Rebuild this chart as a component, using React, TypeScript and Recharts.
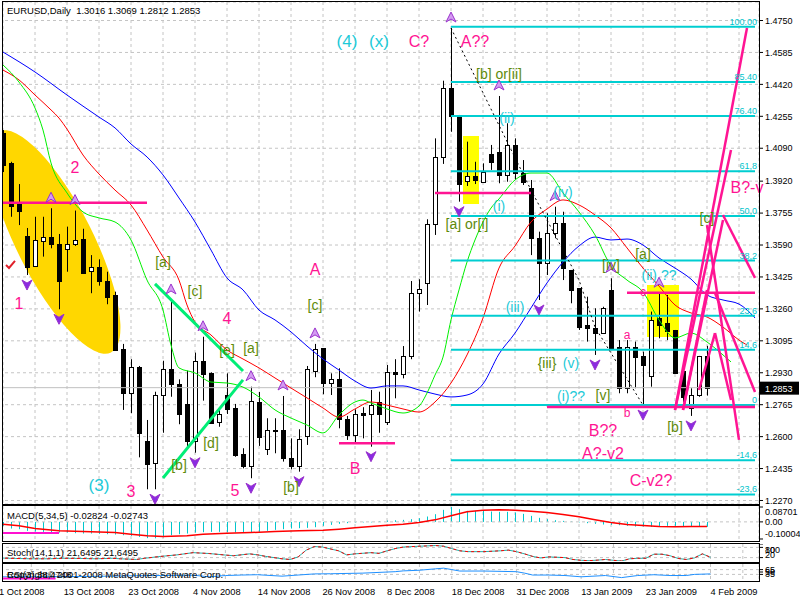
import React from 'react';
import {
  ComposedChart,
  Bar,
  Line,
  XAxis,
  YAxis,
  CartesianGrid,
  ReferenceLine,
  ReferenceArea,
  ReferenceDot,
} from 'recharts';

const FONT = '"Liberation Sans", Arial, sans-serif';
const SLOTS = 95; // 89 daily candles + room for the shifted Alligator lines
const W = 801;

// [open, high, low, close], one per trading day from 1 Oct 2008
const candles: number[][] = [
  [1.4169, 1.4184, 1.3967, 1.4003], [1.4012, 1.402, 1.3736, 1.3792], [1.3802, 1.3905, 1.3693, 1.3767],
  [1.3637, 1.3678, 1.3435, 1.3478], [1.3483, 1.3736, 1.3478, 1.3616], [1.3612, 1.3736, 1.353, 1.363],
  [1.363, 1.378, 1.3573, 1.3595], [1.3595, 1.3647, 1.3258, 1.3406], [1.3568, 1.3685, 1.3452, 1.3594],
  [1.3594, 1.3768, 1.3585, 1.3616], [1.3621, 1.3674, 1.3444, 1.3447], [1.3457, 1.3538, 1.3341, 1.3478],
  [1.3478, 1.3516, 1.338, 1.3406], [1.3406, 1.3452, 1.3284, 1.3323], [1.3332, 1.3349, 1.3044, 1.3048],
  [1.3053, 1.3079, 1.2738, 1.2824], [1.2824, 1.3, 1.2721, 1.2958], [1.2961, 1.2965, 1.2493, 1.262],
  [1.2577, 1.2686, 1.2328, 1.2457], [1.2462, 1.2832, 1.2328, 1.2815], [1.2813, 1.2992, 1.262, 1.2949],
  [1.2951, 1.3306, 1.2806, 1.287], [1.287, 1.2896, 1.2664, 1.2717], [1.2769, 1.2941, 1.2543, 1.2579],
  [1.2579, 1.3034, 1.2517, 1.2992], [1.2992, 1.3116, 1.2786, 1.2924], [1.2927, 1.2932, 1.2672, 1.2672],
  [1.2674, 1.2752, 1.2651, 1.2715], [1.2813, 1.2927, 1.2717, 1.2744], [1.2748, 1.2769, 1.2496, 1.2505],
  [1.2509, 1.254, 1.2436, 1.2448], [1.245, 1.2858, 1.2385, 1.2784], [1.278, 1.2831, 1.2552, 1.26],
  [1.2535, 1.2695, 1.2505, 1.2634], [1.263, 1.2695, 1.2514, 1.2634], [1.2634, 1.281, 1.2471, 1.2491],
  [1.2491, 1.2591, 1.2431, 1.2448], [1.2448, 1.2638, 1.2419, 1.2586], [1.2605, 1.2965, 1.2557, 1.2948],
  [1.2941, 1.3079, 1.2907, 1.3051], [1.3056, 1.3056, 1.2819, 1.2876], [1.2876, 1.2927, 1.2815, 1.2896],
  [1.2896, 1.2953, 1.2643, 1.269], [1.2691, 1.2707, 1.2583, 1.2608], [1.2608, 1.2741, 1.2562, 1.2715],
  [1.2724, 1.2752, 1.2591, 1.2712], [1.2715, 1.2841, 1.2548, 1.2763], [1.2777, 1.2832, 1.262, 1.2715],
  [1.2677, 1.297, 1.266, 1.2932], [1.2932, 1.3, 1.2798, 1.2922], [1.2924, 1.3068, 1.2901, 1.3017],
  [1.3017, 1.3404, 1.3, 1.3341], [1.3341, 1.3413, 1.3246, 1.3364], [1.3392, 1.3723, 1.328, 1.3699],
  [1.3699, 1.4141, 1.3642, 1.4043], [1.4043, 1.4439, 1.4009, 1.44], [1.44, 1.4711, 1.4175, 1.4257],
  [1.4257, 1.4262, 1.3814, 1.3905], [1.3922, 1.4124, 1.3895, 1.3947], [1.3947, 1.402, 1.3905, 1.3926],
  [1.3917, 1.4012, 1.3912, 1.3969], [1.4059, 1.4107, 1.3978, 1.402], [1.4072, 1.436, 1.3909, 1.3952],
  [1.3952, 1.4219, 1.3917, 1.4107], [1.4107, 1.4141, 1.3926, 1.3964], [1.3964, 1.4029, 1.39, 1.3917],
  [1.3883, 1.3926, 1.3538, 1.3625], [1.3625, 1.3659, 1.3306, 1.3496], [1.3496, 1.3754, 1.3435, 1.3654],
  [1.3651, 1.3788, 1.3625, 1.3702], [1.3705, 1.3762, 1.3409, 1.347], [1.3461, 1.3461, 1.3289, 1.3358],
  [1.3366, 1.3366, 1.3151, 1.3168], [1.3177, 1.3323, 1.3091, 1.316], [1.316, 1.3263, 1.3022, 1.3134],
  [1.3134, 1.3271, 1.3134, 1.3263], [1.3358, 1.3418, 1.3048, 1.3056], [1.3065, 1.3099, 1.2824, 1.285],
  [1.285, 1.3099, 1.2824, 1.3065], [1.3065, 1.3091, 1.285, 1.301], [1.3017, 1.3039, 1.2763, 1.297],
  [1.2913, 1.3246, 1.2858, 1.3203], [1.3211, 1.3341, 1.3108, 1.3177], [1.3186, 1.3332, 1.3099, 1.3147],
  [1.3151, 1.3151, 1.2927, 1.293], [1.2941, 1.2941, 1.2779, 1.2806], [1.2746, 1.285, 1.2707, 1.2815],
  [1.2815, 1.3017, 1.2806, 1.3017], [1.3016, 1.3069, 1.2812, 1.2853],
];

const dateTicks = [0, 8, 16, 24, 32, 40, 48, 56, 64, 72, 80, 88];
const dateLabels = [
  '1 Oct 2008', '13 Oct 2008', '23 Oct 2008', '4 Nov 2008', '14 Nov 2008', '26 Nov 2008',
  '8 Dec 2008', '18 Dec 2008', '31 Dec 2008', '13 Jan 2009', '23 Jan 2009', '4 Feb 2009',
];
const priceTicks = [
  1.475, 1.4585, 1.442, 1.4255, 1.409, 1.392, 1.3755, 1.359, 1.3425, 1.326, 1.3095, 1.293,
  1.2765, 1.26, 1.2435, 1.227,
];
const lastClose = 1.2853;

// Alligator lines, [bar, price]
const jaw: number[][] = [
  [0, 1.4587], [4, 1.4484], [8, 1.4365], [12, 1.4251], [14, 1.4195], [16, 1.4112], [18, 1.4045],
  [20, 1.3952], [22, 1.3833], [24, 1.3709], [26, 1.3564], [28, 1.342], [30, 1.3358], [32, 1.3254],
  [34, 1.3203], [36, 1.3141], [38, 1.3068], [40, 1.3001], [42, 1.2944], [44, 1.2887], [46, 1.2851],
  [48, 1.2862], [50, 1.2862], [52, 1.2841], [54, 1.282], [56, 1.2805], [58, 1.2815], [60, 1.2872],
  [62, 1.3027], [64, 1.3135], [66, 1.3265], [68, 1.3394], [70, 1.3502], [72, 1.3585], [74, 1.3631],
  [76, 1.3616], [78, 1.3621], [80, 1.359], [82, 1.3523], [84, 1.3471], [86, 1.3414], [88, 1.3332],
  [90, 1.3306], [92, 1.3285], [94, 1.3213],
];
const teeth: number[][] = [
  [0, 1.4494], [2, 1.4443], [4, 1.4365], [6, 1.4288], [7, 1.4246], [8, 1.4189], [10, 1.4055],
  [12, 1.3957], [14, 1.3874], [16, 1.3797], [18, 1.3668], [20, 1.3528], [22, 1.3409], [23, 1.328],
  [24, 1.3192], [26, 1.3125], [28, 1.3048], [30, 1.3001], [32, 1.2955], [34, 1.2903], [36, 1.2851],
  [38, 1.28], [40, 1.2748], [42, 1.2701], [44, 1.2743], [46, 1.2779], [48, 1.2763], [50, 1.2743],
  [52, 1.2727], [54, 1.2779], [56, 1.2877], [57, 1.2944], [58, 1.3022], [60, 1.3213], [62, 1.3471],
  [64, 1.3585], [66, 1.3709], [68, 1.3776], [70, 1.3823], [72, 1.3797], [74, 1.3745], [76, 1.3678],
  [78, 1.3575], [80, 1.3471], [82, 1.3378], [84, 1.328], [86, 1.3239], [88, 1.3218], [90, 1.3166],
  [92, 1.3099], [93, 1.3073],
];
const lips: number[][] = [
  [0, 1.452], [2, 1.4432], [4, 1.4298], [5, 1.4184], [6, 1.4014], [8, 1.3859], [10, 1.3761],
  [12, 1.373], [14, 1.3709], [16, 1.3616], [18, 1.3409], [20, 1.3254], [21, 1.3073], [22, 1.2955],
  [24, 1.2929], [26, 1.2882], [28, 1.2877], [30, 1.2856], [32, 1.2805], [34, 1.2738], [36, 1.2696],
  [38, 1.266], [40, 1.2619], [42, 1.2712], [44, 1.2779], [45, 1.2789], [46, 1.2774], [48, 1.2743],
  [50, 1.2722], [52, 1.2758], [53, 1.2825], [54, 1.2918], [55, 1.3011], [56, 1.3203], [57, 1.3358],
  [58, 1.3502], [59, 1.3616], [60, 1.3709], [61, 1.3781], [62, 1.3828], [64, 1.3926], [66, 1.3962],
  [68, 1.3962], [70, 1.3859], [72, 1.3761], [74, 1.3642], [76, 1.3482], [78, 1.3409], [80, 1.3347],
  [82, 1.3203], [84, 1.311], [86, 1.3135], [88, 1.3089], [90, 1.3022], [91, 1.2986],
];
const zigzag: number[][] = [[56, 1.4711], [66, 1.3874], [72, 1.3409], [74, 1.3166], [80, 1.2763]];

const macdHist = [
  -0.0232, -0.0388, -0.0427, -0.0524, -0.0563, -0.0583, -0.0622, -0.0622, -0.0622, -0.0661,
  -0.068, -0.068, -0.07, -0.0719, -0.0739, -0.0778, -0.0817, -0.088, -0.095, -0.096,
  -0.09, -0.0778, -0.0719, -0.068, -0.0622, -0.0602, -0.0583, -0.0583, -0.0602, -0.0622,
  -0.0622, -0.0622, -0.0583, -0.0524, -0.0466, -0.0427, -0.0388, -0.0368, -0.0349, -0.031,
  -0.0232, -0.0174, -0.0115, -0.0076, -0.0037, -0.0018, 0.0002, 0.0041, 0.008, 0.0099,
  0.0119, 0.0158, 0.0216, 0.0314, 0.045, 0.0704, 0.087, 0.0743, 0.0645, 0.0645,
  0.0645, 0.0606, 0.0587, 0.0587, 0.0548, 0.047, 0.0353, 0.0236, 0.0158, 0.0099,
  0.006, 0.0022, 0.0002, -0.0076, -0.0115, -0.0154, -0.0174, -0.0193, -0.0232, -0.0271,
  -0.0271, -0.0291, -0.0271, -0.0232, -0.0232, -0.0251, -0.0251, -0.0271, -0.0282,
];
const macdSignal: number[][] = [
  [0, -0.0135], [2, -0.0232], [4, -0.0388], [7, -0.0524], [10, -0.0563], [14, -0.0622], [16, -0.0719],
  [18, -0.0817], [20, -0.0856], [23, -0.0817], [25, -0.0719], [28, -0.0661], [31, -0.0622],
  [34, -0.0563], [37, -0.0524], [40, -0.0485], [42, -0.0427], [44, -0.0349], [46, -0.0271],
  [48, -0.0193], [50, -0.0135], [52, -0.0037], [54, 0.0119], [56, 0.0353], [58, 0.0587], [60, 0.0684],
  [62, 0.0704], [64, 0.0684], [66, 0.0626], [68, 0.0548], [70, 0.0431], [72, 0.0294], [74, 0.0119],
  [76, -0.0037], [78, -0.0154], [80, -0.0212], [82, -0.0271], [84, -0.0291], [86, -0.0271], [88, -0.0274],
];
const stochK: number[][] = [
  [0, 18], [2, 15], [4, 13], [6, 13], [8, 16], [10, 15], [12, 13], [14, 16], [15, 13], [17, 9], [18, 16],
  [20, 27], [22, 36], [24, 49], [26, 44], [28, 35], [29, 31], [31, 42], [32, 36], [33, 27], [35, 13],
  [36, 9], [37, 24], [38, 64], [39, 85], [40, 82], [42, 60], [43, 36], [44, 42], [46, 49], [47, 45],
  [48, 60], [49, 73], [50, 82], [52, 87], [54, 91], [55, 87], [56, 73], [57, 60], [58, 55], [60, 55],
  [62, 60], [63, 64], [64, 55], [65, 42], [66, 27], [67, 18], [68, 24], [69, 22], [70, 20], [71, 9],
  [72, 4], [73, 2], [74, 5], [75, 9], [76, 4], [77, 0], [78, 13], [79, 16], [80, 16], [81, 40], [82, 40],
  [83, 31], [84, 15], [85, 9], [86, 18], [87, 42], [88, 22],
];
const rsi: number[][] = [
  [0, 20], [4, 20], [8, 21], [12, 23], [16, 26], [20, 28], [24, 30], [26, 20], [28, 28], [30, 31],
  [32, 33], [35, 24], [37, 31], [39, 38], [41, 39], [45, 43], [49, 52], [50, 57], [52, 61], [54, 70],
  [55, 74], [56, 65], [57, 56], [60, 56], [64, 52], [65, 43], [66, 31], [68, 31], [70, 28], [72, 20],
  [75, 28], [77, 15], [79, 28], [81, 33], [83, 28], [85, 28], [86, 35], [88, 38],
];

// Fibonacci retracement from the 18 Dec high to the late-Jan low
const fibHigh = 1.4718;
const fibLow = 1.2763;
const fibLevels = [100, 85.4, 76.4, 61.8, 50, 38.2, 23.6, 14.6, 0, -14.6, -23.6];
const fibTexts = ['100.00', '85.40', '76.40', '61,8', '50,0', '38,2', '23,6', '14,6', '0', '-14,6', '-23,6'];

const fractalUp = [6, 9, 21, 25, 31, 35, 39, 56, 62, 69, 76, 82];
const fractalDown = [3, 7, 19, 24, 31, 37, 46, 57, 67, 74, 80, 86];

// drawn objects: [bar1, price1, bar2, price2]
const pinkLevels = [
  [0, 1.3809, 18, 1.3809], [42, 1.2566, 49, 1.2566], [54, 1.3859, 66, 1.3859],
  [68, 1.2753, 94, 1.2753], [78, 1.3344, 94, 1.3344],
];
const pinkFan = [
  [84, 1.2738, 93, 1.4711], [84, 1.2738, 91, 1.4081], [85, 1.2738, 90, 1.3719], [85, 1.2738, 88, 1.3358],
  [90, 1.3745, 94, 1.342], [88, 1.3693, 92, 1.2583], [89, 1.3342, 94, 1.2831],
  [87, 1.2841, 89, 1.3135], [89, 1.3135, 91, 1.2789],
];
const greenLines = [[19, 1.3389, 30, 1.2939], [20, 1.2386, 30, 1.2893]];
const yellowBoxes = [[58, 1.4153, 59, 1.3802], [81, 1.3383, 84, 1.3115]];
// ellipse given by the two ends of its long axis, as the platform stores it
const ellipseAxis = [0, 1.4176, 13, 1.3035];
const ellipseWidth = 38;
const checkAt = [1, 1.3487];

// wave labels: [bar, price, text]
const pinkBig: [number, number, string][] = [
  [2, 1.329, '1'], [9, 1.3988, '2'], [16, 1.2316, '3'], [28, 1.3208, '4'], [29, 1.2324, '5'],
  [39, 1.3466, 'A'], [44, 1.2433, 'B'], [52, 1.4641, 'C?'], [59, 1.4641, 'A??'], [75, 1.2634, 'B??'],
  [75, 1.2515, 'A?-v2'], [81, 1.2371, 'C-v2?'], [93, 1.3885, 'B?-v'],
];
const pinkSmall: [number, number, string][] = [[78, 1.3125, 'a'], [78, 1.2722, 'b'], [80, 1.3347, 'c']];
const cyanBig: [number, number, string][] = [[43, 1.4641, '(4)'], [47, 1.4641, '(x)'], [12, 1.235, '(3)']];
const cyanSmall: [number, number, string][] = [
  [62, 1.3792, '(i)'], [63, 1.4246, '(ii)'], [64, 1.327, '(iii)'], [70, 1.3864, '(iv)'], [71, 1.298, '(v)'],
  [71, 1.281, '(i)??'], [82, 1.3435, '(ii) ??'],
];
const oliveLabels: [number, number, string][] = [
  [20, 1.3504, '[a]'], [24, 1.3352, '[c]'], [28, 1.3048, '[e]'], [31, 1.306, '[a]'], [26, 1.2567, '[d]'],
  [22, 1.2453, '[b]'], [36, 1.234, '[b]'], [39, 1.328, '[c]'], [58, 1.3699, '[a] or[i]'],
  [62, 1.4474, '[b] or[ii]'], [76, 1.3487, '[iv]'], [80, 1.3544, '[a]'], [88, 1.373, '[c]'],
  [75, 1.2815, '[v]'], [84, 1.265, '[b]'], [68, 1.298, '{iii}'],
];

const PINK = '#FF1493';
const CYAN = '#1CCAD8';
const OLIVE = '#5E8A0A';
const MAGENTA = '#FF10D0';

const pick = (pts: number[][], i: number) => {
  const f = pts.find((p) => p[0] === i);
  return f ? f[1] : null;
};

const rows = Array.from({ length: SLOTS }, (_, i) => {
  const k = candles[i];
  return {
    i,
    o: k ? k[0] : null,
    h: k ? k[1] : null,
    l: k ? k[2] : null,
    c: k ? k[3] : null,
    hl: k ? [k[2], k[1]] : null,
    jaw: pick(jaw, i),
    teeth: pick(teeth, i),
    lips: pick(lips, i),
    zz: pick(zigzag, i),
    macd: i < macdHist.length ? macdHist[i] : null,
    sig: pick(macdSignal, i),
    stoch: pick(stochK, i),
    rsi: pick(rsi, i),
  };
});

const gridTicks = rows.filter((r) => r.i % 4 === 0).map((r) => r.i);

function Candle(props: any) {
  const { x, y, width, height, payload } = props;
  if (!payload || payload.o == null) return null;
  const { o, h, l, c } = payload;
  const top = Math.min(y, y + height);
  const bot = Math.max(y, y + height);
  const at = (v: number) => (h === l ? top : top + ((h - v) / (h - l)) * (bot - top));
  const cx = Math.floor(x + width / 2) + 0.5;
  const b1 = Math.round(Math.min(at(o), at(c))) + 0.5;
  const b2 = Math.round(Math.max(at(o), at(c))) + 0.5;
  return (
    <g>
      <line x1={cx} x2={cx} y1={top} y2={bot} stroke="#000" />
      {b2 - b1 < 1 ? (
        <line x1={cx - 2} x2={cx + 3} y1={b1} y2={b1} stroke="#000" />
      ) : (
        <rect x={cx - 2} y={b1} width={4} height={b2 - b1} fill={c >= o ? '#fff' : '#000'} stroke="#000" />
      )}
    </g>
  );
}

function HistBar(props: any) {
  const { x, y, width, height } = props;
  if (height == null || isNaN(y)) return null;
  const top = Math.min(y, y + height);
  const h = Math.abs(height);
  return <rect x={Math.floor(x + width / 2)} y={top} width={1} height={Math.max(h, 0.5)} fill="#00C6CC" />;
}

// the long axis runs corner to corner of the reference area box
function EllipseShape(props: any) {
  const { x, y, width, height } = props;
  const cx = x + width / 2;
  const cy = y + height / 2;
  const rx = Math.sqrt(width * width + height * height) / 2;
  const angle = (Math.atan2(height, width) * 180) / Math.PI;
  return <ellipse cx={cx} cy={cy} rx={rx} ry={ellipseWidth} fill="#FFD700" transform={`rotate(${angle} ${cx} ${cy})`} />;
}

const textShape = (text: string, color: string, size: number) => (p: any) => (
  <text
    x={p.cx}
    y={p.cy}
    fill={color}
    fontSize={size}
    fontFamily={FONT}
    textAnchor="middle"
    dominantBaseline="central"
  >
    {text}
  </text>
);

const ArrowUp = (p: any) => (
  <path
    d={`M${p.cx},${p.cy - 16} L${p.cx + 5},${p.cy - 6} L${p.cx},${p.cy - 9} L${p.cx - 5},${p.cy - 6} Z`}
    fill="#D49BF2"
    stroke="#9932CC"
    strokeWidth={1}
  />
);
const ArrowDown = (p: any) => (
  <path
    d={`M${p.cx},${p.cy + 15} L${p.cx + 5},${p.cy + 5} L${p.cx},${p.cy + 8} L${p.cx - 5},${p.cy + 5} Z`}
    fill="#8A2BE2"
    stroke="#9932CC"
    strokeWidth={1}
  />
);

const PriceTag = (props: any) => {
  const vb = props.viewBox || {};
  const x = (vb.x || 0) + (vb.width || 0);
  const y = vb.y || 0;
  return (
    <g>
      <rect x={x} y={y - 6} width={40} height={13} fill="#000" />
      <text x={x + 6} y={y + 4} fill="#fff" fontSize={9} fontFamily={FONT}>
        {lastClose.toFixed(4)}
      </text>
    </g>
  );
};

// labels of the small panels are pushed inside the panel, as the platform does
const sideTick = (h: number, names: Record<string, string>) => (p: any) => {
  const yy = Math.min(Math.max(p.y, 6), h - 6);
  const key = String(p.payload.value);
  return (
    <text x={p.x} y={yy + 3} fontSize={9} fontFamily={FONT} fill="#000">
      {names[key] ?? key}
    </text>
  );
};

const DateTick = (p: any) => {
  const k = dateTicks.indexOf(p.payload.value);
  return (
    <text x={p.x} y={p.y + 7} fontSize={9.3} fontFamily={FONT} fill="#000">
      {dateLabels[k]}
    </text>
  );
};

const seg = (s: number[]) => [
  { x: s[0], y: s[1] },
  { x: s[2], y: s[3] },
];

const gridProps = { stroke: '#C4C4C4', strokeDasharray: '3 3' };

function MainPanel() {
  return (
    <ComposedChart width={W} height={507} data={rows} margin={{ top: 0, right: 0, bottom: 5, left: 0 }}>
      <XAxis dataKey="i" type="category" hide ticks={gridTicks} interval={0} />
      <YAxis
        orientation="right"
        width={41}
        type="number"
        domain={[1.22519, 1.48456]}
        allowDataOverflow
        ticks={priceTicks}
        interval={0}
        axisLine={false}
        tickSize={4}
        tickMargin={2}
        tickLine={{ stroke: '#000' }}
        tick={{ fontSize: 9, fill: '#000', fontFamily: FONT }}
        tickFormatter={(v: number) => v.toFixed(4)}
      />
      <CartesianGrid {...gridProps} />
      <ReferenceArea
        x1={ellipseAxis[0]}
        x2={ellipseAxis[2]}
        y1={ellipseAxis[1]}
        y2={ellipseAxis[3]}
        ifOverflow="hidden"
        shape={EllipseShape}
      />
      {yellowBoxes.map((b, k) => (
        <ReferenceArea key={'yb' + k} x1={b[0]} x2={b[2]} y1={b[1]} y2={b[3]} fill="#FFFF00" fillOpacity={1} stroke="none" />
      ))}
      <ReferenceLine y={lastClose} stroke="#C0C0C0" label={<PriceTag />} />
      <Line dataKey="jaw" stroke="#0000FF" dot={false} connectNulls type="monotone" strokeWidth={1} isAnimationActive={false} />
      <Line dataKey="teeth" stroke="#FF0000" dot={false} connectNulls type="monotone" strokeWidth={1} isAnimationActive={false} />
      <Line dataKey="lips" stroke="#00F000" dot={false} connectNulls type="monotone" strokeWidth={1} isAnimationActive={false} />
      {fibLevels.map((lv, k) => (
        <ReferenceLine
          key={'fib' + k}
          segment={seg([56, fibLow + (lv / 100) * (fibHigh - fibLow), 94, fibLow + (lv / 100) * (fibHigh - fibLow)])}
          stroke="#00CED1"
          strokeWidth={2}
        />
      ))}
      <Bar dataKey="hl" barSize={5} shape={Candle} isAnimationActive={false} />
      <Line dataKey="zz" stroke="#000" strokeDasharray="2 3" dot={false} connectNulls type="linear" isAnimationActive={false} />
      {pinkLevels.map((s, k) => (
        <ReferenceLine key={'pl' + k} segment={seg(s)} stroke={PINK} strokeWidth={2.5} />
      ))}
      {pinkFan.map((s, k) => (
        <ReferenceLine key={'pf' + k} segment={seg(s)} stroke={PINK} strokeWidth={2.5} ifOverflow="hidden" />
      ))}
      {greenLines.map((s, k) => (
        <ReferenceLine key={'gl' + k} segment={seg(s)} stroke="#00EE76" strokeWidth={3} />
      ))}
      {fibLevels.map((lv, k) => (
        <ReferenceDot
          key={'ft' + k}
          x={94}
          y={fibLow + (lv / 100) * (fibHigh - fibLow)}
          shape={(p: any) => (
            <text x={p.cx + 2} y={p.cy - 2} fill="#00C4CC" fontSize={9} fontFamily={FONT} textAnchor="end">
              {fibTexts[k]}
            </text>
          )}
        />
      ))}
      {fractalUp.map((b) => (
        <ReferenceDot key={'fu' + b} x={b} y={candles[b][1]} shape={ArrowUp} ifOverflow="visible" />
      ))}
      {fractalDown.map((b) => (
        <ReferenceDot key={'fd' + b} x={b} y={candles[b][2]} shape={ArrowDown} ifOverflow="visible" />
      ))}
      <ReferenceDot
        x={checkAt[0]}
        y={checkAt[1]}
        shape={(p: any) => (
          <path d={`M${p.cx - 5},${p.cy} L${p.cx - 2},${p.cy + 3} L${p.cx + 4},${p.cy - 4}`} stroke="#E0202A" strokeWidth={2} fill="none" />
        )}
      />
      {pinkBig.map((t, k) => (
        <ReferenceDot key={'pb' + k} x={t[0]} y={t[1]} ifOverflow="hidden" shape={textShape(t[2], PINK, 16)} />
      ))}
      {pinkSmall.map((t, k) => (
        <ReferenceDot key={'ps' + k} x={t[0]} y={t[1]} ifOverflow="hidden" shape={textShape(t[2], PINK, 12)} />
      ))}
      {cyanBig.map((t, k) => (
        <ReferenceDot key={'cb' + k} x={t[0]} y={t[1]} ifOverflow="hidden" shape={textShape(t[2], CYAN, 17)} />
      ))}
      {cyanSmall.map((t, k) => (
        <ReferenceDot key={'cs' + k} x={t[0]} y={t[1]} ifOverflow="hidden" shape={textShape(t[2], CYAN, 14)} />
      ))}
      {oliveLabels.map((t, k) => (
        <ReferenceDot key={'ol' + k} x={t[0]} y={t[1]} ifOverflow="hidden" shape={textShape(t[2], OLIVE, 14)} />
      ))}
    </ComposedChart>
  );
}

function MacdPanel() {
  return (
    <ComposedChart width={W} height={34} data={rows} margin={{ top: 0, right: 0, bottom: 0, left: 0 }}>
      <XAxis dataKey="i" type="category" hide ticks={gridTicks} interval={0} />
      <YAxis
        orientation="right"
        width={41}
        type="number"
        domain={[-0.1059, 0.0929]}
        allowDataOverflow
        ticks={[0.08701, 0, -0.10004]}
        interval={0}
        axisLine={false}
        tickSize={4}
        tickMargin={2}
        tickLine={{ stroke: '#000' }}
        tick={sideTick(34, { '0.08701': '0.08701', '0': '0.00', '-0.10004': '-0.10004' })}
      />
      <CartesianGrid {...gridProps} horizontal={false} />
      <ReferenceLine y={0} {...gridProps} />
      <Bar dataKey="macd" barSize={1} shape={HistBar} isAnimationActive={false} />
      <Line dataKey="sig" stroke="#FF0000" strokeWidth={1.5} dot={false} connectNulls type="linear" isAnimationActive={false} />
      <ReferenceLine segment={seg([0, -0.065, 7, -0.065])} stroke={MAGENTA} strokeWidth={2} />
    </ComposedChart>
  );
}

function StochPanel() {
  return (
    <ComposedChart width={W} height={17} data={rows} margin={{ top: 0, right: 0, bottom: 0, left: 0 }}>
      <XAxis dataKey="i" type="category" hide ticks={gridTicks} interval={0} />
      <YAxis
        orientation="right"
        width={41}
        type="number"
        domain={[0, 100]}
        ticks={[100, 80, 20]}
        interval={0}
        axisLine={false}
        tickSize={4}
        tickMargin={2}
        tickLine={{ stroke: '#000' }}
        tick={sideTick(17, {})}
      />
      <CartesianGrid {...gridProps} horizontal={false} />
      <ReferenceLine y={80} {...gridProps} />
      <ReferenceLine y={20} {...gridProps} />
      <Line dataKey="stoch" stroke="#20B2AA" dot={false} connectNulls type="linear" isAnimationActive={false} />
      <Line dataKey="stoch" stroke="#FF0000" strokeDasharray="3 3" dot={false} connectNulls type="linear" isAnimationActive={false} />
    </ComposedChart>
  );
}

function RsiPanel() {
  return (
    <ComposedChart width={W} height={36} data={rows} margin={{ top: 0, right: 0, bottom: 0, left: 0 }}>
      <XAxis
        dataKey="i"
        type="category"
        height={20}
        ticks={dateTicks}
        interval={0}
        axisLine={false}
        tickLine={false}
        tick={DateTick}
      />
      <XAxis xAxisId="g" dataKey="i" type="category" hide ticks={gridTicks} interval={0} />
      <YAxis
        orientation="right"
        width={41}
        type="number"
        domain={[0, 100]}
        ticks={[65, 50, 35]}
        interval={0}
        axisLine={false}
        tickSize={4}
        tickMargin={2}
        tickLine={{ stroke: '#000' }}
        tick={sideTick(16, {})}
      />
      <CartesianGrid {...gridProps} horizontal={false} xAxisId="g" />
      <ReferenceLine y={65} {...gridProps} />
      <ReferenceLine y={35} {...gridProps} />
      <Line dataKey="rsi" stroke="#1E90FF" dot={false} connectNulls type="linear" isAnimationActive={false} />
      <ReferenceLine segment={seg([0, 10, 7, 10])} stroke={MAGENTA} strokeWidth={2} />
    </ComposedChart>
  );
}

const box = (top: number, height: number): React.CSSProperties => ({
  position: 'absolute',
  left: 2,
  top,
  width: 758,
  height,
  border: '1px solid #000',
  boxSizing: 'border-box',
  pointerEvents: 'none',
});

const caption = (top: number): React.CSSProperties => ({
  position: 'absolute',
  left: 7,
  top,
  fontSize: 9.5,
  lineHeight: '13px',
  whiteSpace: 'pre',
  color: '#000',
  fontFamily: FONT,
});

export default function App() {
  return (
    <div style={{ position: 'absolute', left: 0, top: 0, width: 800, height: 600, overflow: 'hidden', background: '#fff', fontFamily: FONT }}>
      <div style={{ position: 'absolute', left: -1, top: 2 }}>
        <MainPanel />
      </div>
      <div style={{ position: 'absolute', left: -1, top: 506 }}>
        <MacdPanel />
      </div>
      <div style={{ position: 'absolute', left: -1, top: 544 }}>
        <StochPanel />
      </div>
      <div style={{ position: 'absolute', left: -1, top: 564 }}>
        <RsiPanel />
      </div>
      <div style={{ position: 'absolute', left: 0, top: 0, width: 2, height: 582, background: '#fff' }} />
      <div style={box(1, 504)} />
      <div style={box(505, 37)} />
      <div style={box(543, 20)} />
      <div style={box(563, 19)} />
      <div style={caption(4)}>{'EURUSD,Daily  1.3016 1.3069 1.2812 1.2853'}</div>
      <div style={caption(509)}>{'MACD(5,34,5) -0.02824 -0.02743'}</div>
      <div style={caption(546)}>{'Stoch(14,1,1) 21,6495 21,6495'}</div>
      <div style={caption(568)}>{'RSI(3) 38,4748'}</div>
      <div style={caption(568)}>{'Copyright\u00A9 2001-2008 MetaQuotes Software Corp.'}</div>
    </div>
  );
}
